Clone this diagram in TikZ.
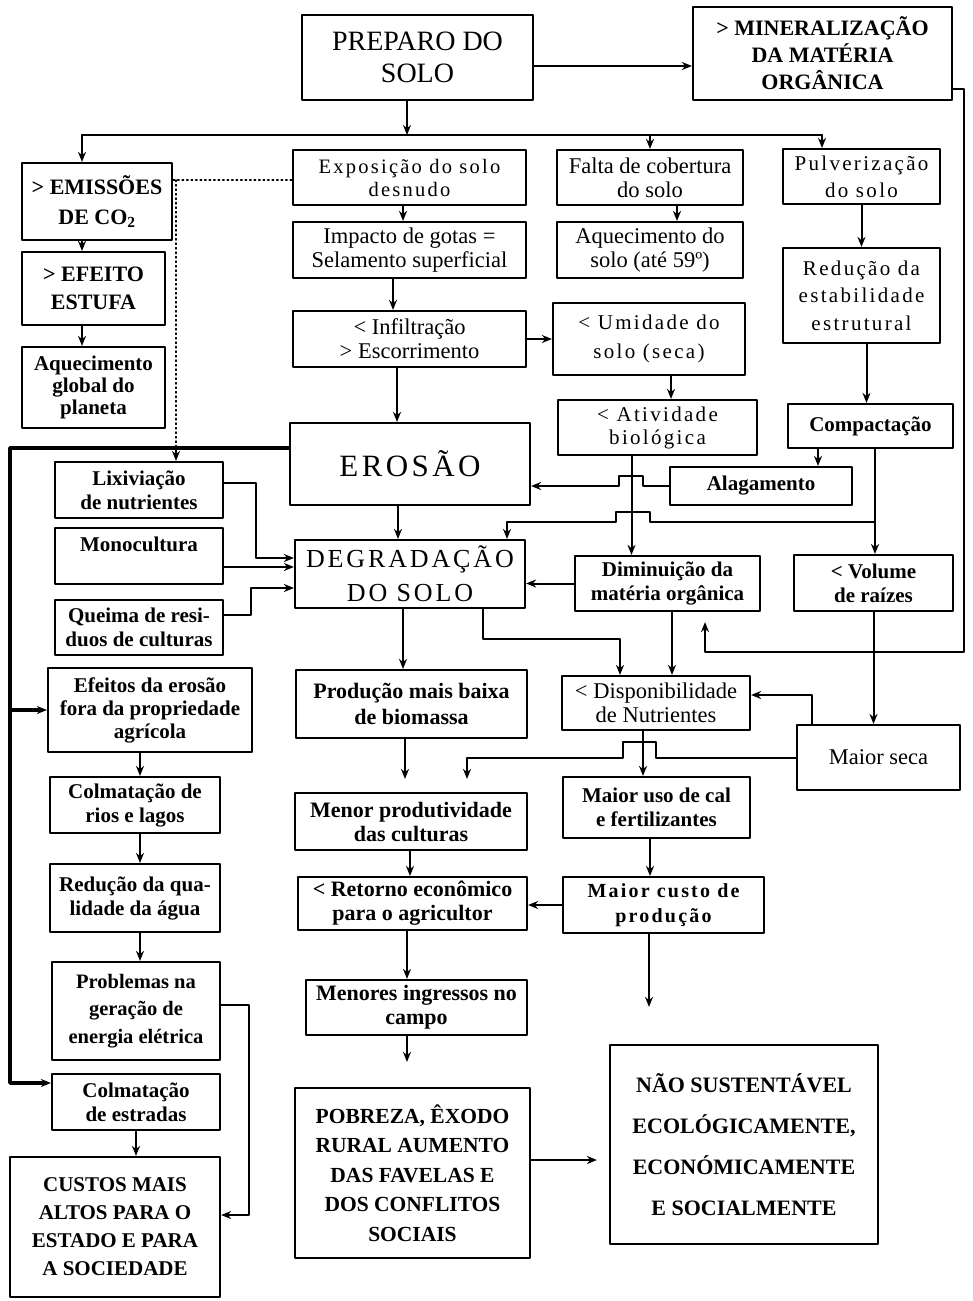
\documentclass[tikz,border=0pt]{standalone}
\usepackage{fontspec}
\setmainfont{Liberation Serif}
\newfontfamily\spaced[LetterSpace=11]{Liberation Serif}
\usetikzlibrary{arrows.meta}
\newcommand\fsz[2]{\fontsize{#1}{#2}\selectfont}

\begin{document}
\begin{tikzpicture}[x=1pt, y=-1pt, line cap=round, line join=round,
	box/.style={draw, line width=2.2pt, align=center, inner sep=1pt, font=\fsz{22.5}{24}},
	bbox/.style={box, font=\bfseries\fsz{21}{24}},
	sbox/.style={box, font=\spaced\fsz{21}{27}},
	wh/.style 2 args={minimum width=#1pt, minimum height=#2pt},
	arr/.style={line width=2pt, -{Stealth[length=10pt,width=8pt]}},
	ln/.style={line width=2pt}]
	% Page frame (same size as the scanned figure)
	\useasboundingbox (0,0) rectangle (972,1301);
	
	% Top row
	\node[box, wh={231}{85}, font=\fsz{28}{32}] (preparo) at (417.5,57.5) {PREPARO DO\\SOLO};
	\node[bbox, wh={259}{93}, font=\bfseries\fsz{22}{27}] (mineral) at (822.5,53.5) {> MINERALIZAÇÃO\\DA MATÉRIA\\ORGÂNICA};
	
	% Left column: greenhouse effect chain
	\node[bbox, wh={150}{77}, font=\bfseries\fsz{22}{30}] (emissoes) at (97,201.5) {> EMISSÕES\\DE CO\textsubscript{2}};
	\node[bbox, wh={143}{73}, font=\bfseries\fsz{22}{28}] (efeito) at (93.5,288.5) {> EFEITO\\ESTUFA};
	\node[bbox, wh={143}{81}, font=\bfseries\fsz{21}{22}] (aquecglobal) at (93.5,387.5) {Aquecimento\\global do\\planeta};
	
	% Left column: causes and off-farm effects
	\node[bbox, wh={168}{56}] (lixiv) at (139,490) {Lixiviação\\de nutrientes};
	\node[bbox, wh={168}{56}] (mono) at (139,556) {Monocultura\\\mbox{}};
	\node[bbox, wh={168}{55}] (queima) at (139,627.5) {Queima de resi-\\duos de culturas};
	\node[bbox, wh={204}{84}, font=\bfseries\fsz{21}{23}] (efeitos) at (150,710) {Efeitos da erosão\\fora da propriedade\\agrícola};
	\node[bbox, wh={170}{56}] (colmrios) at (135,805) {Colmatação de\\rios e lagos};
	\node[bbox, wh={170}{68}] (redagua) at (135,898) {Redução da qua-\\lidade da água};
	\node[bbox, wh={168}{98}, font=\bfseries\fsz{20.5}{27.5}] (problemas) at (136,1011) {Problemas na\\geração de\\energia elétrica};
	\node[bbox, wh={168}{56}] (colmestr) at (136,1102) {Colmatação\\de estradas};
	\node[bbox, wh={210}{140}, font=\bfseries\fsz{21}{28}] (custos) at (115,1227) {CUSTOS MAIS\\ALTOS PARA O\\ESTADO E PARA\\A SOCIEDADE};
	
	% Middle column
	\node[sbox, wh={233}{55}, font=\spaced\fsz{20.5}{23}] (expos) at (409.5,177.5) {Exposição do solo\\desnudo};
	\node[box, wh={233}{56}] (impacto) at (409.5,250) {Impacto de gotas =\\Selamento superficial};
	\node[box, wh={233}{56}] (infiltr) at (409.5,339) {< Infiltração\\> Escorrimento};
	\node[box, wh={240}{82}, font=\spaced\fsz{31}{34}] (erosao) at (410,464) {EROSÃO};
	\node[box, wh={230}{68}, font=\spaced\fsz{26}{34}] (degrad) at (410,574) {DEGRADAÇÃO\\DO SOLO};
	\node[bbox, wh={231}{68}, font=\bfseries\fsz{22}{26}] (producao) at (411.5,704) {Produção mais baixa\\de biomassa};
	\node[bbox, wh={232}{57}, font=\bfseries\fsz{22}{24}] (menorprod) at (411,821.5) {Menor produtividade\\das culturas};
	\node[bbox, wh={229}{53}, font=\bfseries\fsz{22}{24}] (retorno) at (412.5,903.5) {< Retorno econômico\\para o agricultor};
	\node[bbox, wh={221}{55}, font=\bfseries\fsz{22}{24}] (menores) at (416.5,1007.5) {Menores ingressos no\\campo};
	\node[bbox, wh={235}{170}, font=\bfseries\fsz{21.5}{29.5}] (pobreza) at (412.5,1173) {POBREZA, ÊXODO\\RURAL AUMENTO\\DAS FAVELAS E\\DOS CONFLITOS\\SOCIAIS};
	
	% Third column
	\node[box, wh={186}{55}] (falta) at (650,177.5) {Falta de cobertura\\do solo};
	\node[box, wh={186}{56}] (aquecsolo) at (650,250) {Aquecimento do\\solo (até 59º)};
	\node[sbox, wh={192}{72}, font=\spaced\fsz{21}{29}] (umidade) at (649,339) {< Umidade do\\solo (seca)};
	\node[sbox, wh={199}{55}, font=\spaced\fsz{21}{23}] (atividade) at (657.5,427.5) {< Atividade\\biológica};
	\node[bbox, wh={182}{38}] (alagam) at (761,486) {Alagamento};
	\node[bbox, wh={185}{55}] (diminu) at (667.5,583.5) {Diminuição da\\matéria orgânica};
	\node[box, wh={188}{54}] (dispon) at (656,703) {< Disponibilidade\\de Nutrientes};
	\node[bbox, wh={187}{61}] (maioruso) at (656.5,807.5) {Maior uso de cal\\e fertilizantes};
	\node[sbox, wh={201}{56}, font=\spaced\bfseries\fsz{20}{25}] (maiorcusto) at (663.5,905) {Maior custo de\\produção};
	\node[bbox, wh={268}{199}, font=\bfseries\fsz{22}{41}] (naosust) at (744,1144.5) {NÃO SUSTENTÁVEL\\ECOLÓGICAMENTE,\\ECONÓMICAMENTE\\E SOCIALMENTE};
	
	% Right column
	\node[sbox, wh={157}{55}] (pulver) at (861.5,176.5) {Pulverização\\do solo};
	\node[sbox, wh={157}{95}, font=\spaced\fsz{21}{27.5}] (reducao) at (861.5,295.5) {Redução da\\estabilidade\\estrutural};
	\node[bbox, wh={165}{44}] (compact) at (870.5,426) {Compactação};
	\node[bbox, wh={159}{56}] (volume) at (873.5,583) {< Volume\\de raízes};
	\node[box, wh={163}{65}] (maiorseca) at (878.5,757.5) {Maior seca};
	
	% Helper points for bus lines and bends
	\coordinate (busL) at (82,135);
	\coordinate (busR) at (822,135);
	\coordinate (dotc) at (176,180);
	\coordinate (eroL) at ([yshift=16pt]erosao.west);
	\coordinate (lft) at (10,710);
	\coordinate (jn) at (875,522);
	\coordinate (mr) at (964,652);
	
	% Soil preparation branches
	\draw[arr] ([yshift=-8.5pt]preparo.east) -- ([yshift=-8.5pt]preparo.east -| mineral.west);
	\draw[arr] ([xshift=-10.5pt]preparo.south) -- ([xshift=-10.5pt]preparo.south |- busL);
	\draw[ln] (busL) -- (busR);
	\draw[arr] (busL) -- (busL |- emissoes.north);
	\draw[arr] (falta.north |- busL) -- (falta.north);
	\draw[arr] (busR) -- (busR |- pulver.north);
	
	% Greenhouse chain and dotted link
	\draw[arr] (emissoes.south -| busL) -- (efeito.north -| busL);
	\draw[arr] (efeito.south -| busL) -- (aquecglobal.north -| busL);
	\draw[line width=1.4pt, dash pattern=on 1.5pt off 3pt] (emissoes.east |- dotc) -- (expos.west |- dotc);
	\draw[line width=1.4pt, dash pattern=on 1.5pt off 3pt] (dotc) -- (dotc |- eroL);
	\draw[arr] (dotc |- eroL) -- (dotc |- lixiv.north);
	
	% Middle chain
	\draw[arr] ([xshift=-6.5pt]expos.south) -- ([xshift=-6.5pt]impacto.north);
	\draw[arr] ([xshift=-16.5pt]impacto.south) -- ([xshift=-16.5pt]infiltr.north);
	\draw[arr] ([xshift=-12.5pt]infiltr.south) -- ([xshift=-12.5pt]infiltr.south |- erosao.north);
	\draw[arr] ([xshift=-12pt]erosao.south) -- ([xshift=-12pt]degrad.north);
	\draw[arr] (infiltr.east) -- (umidade.west);
	\draw[arr] ([xshift=27pt]falta.south) -- ([xshift=27pt]aquecsolo.north);
	\draw[arr] ([xshift=22pt]umidade.south) -- ([xshift=22pt]umidade.south |- atividade.north);
	
	% Right chain
	\draw[arr] (pulver.south) -- (reducao.north);
	\draw[arr] ([xshift=5pt]reducao.south) -- ([xshift=5pt]reducao.south |- compact.north);
	\draw[arr] ([xshift=-52.5pt]compact.south) -- ([xshift=-52.5pt]compact.south |- alagam.north);
	\draw[arr] ([xshift=4.5pt]compact.south) -- ([xshift=4.5pt]compact.south |- volume.north);
	
	% Lines with a hop over the vertical line
	\draw[arr] (jn) -- ++(-225,0) -- ++(0,-10) -- ++(-34,0) -- ++(0,10) -| ([xshift=97pt]degrad.north);
	\draw[arr] (alagam.west) -- ++(-26,0) -- ++(0,-10) -- ++(-24,0) -- ++(0,10) -- (erosao.east |- alagam.west);
	\draw[arr] ([xshift=-26pt]atividade.south) -- ([xshift=-26pt]atividade.south |- diminu.north);
	\draw[arr] (diminu.west) -- (degrad.east |- diminu.west);
	
	% Mineralization feedback
	\draw[arr, shorten >=10pt] ([yshift=-35.5pt]mineral.east) -| (mr) -| ([xshift=37.5pt]diminu.south);
	
	% Drought and nutrients
	\draw[arr] (volume.south) -- (volume.south |- maiorseca.north);
	\draw[arr] ([xshift=-66.5pt]maiorseca.north) |- ([yshift=8pt]dispon.east);
	\draw[arr, shorten >=13pt] (maiorseca.west) -- ++(-140,0) -- ++(0,-16) -- ++(-33,0) -- ++(0,16) -| ([xshift=56pt]menorprod.north);
	\draw[arr] ([xshift=-13pt]dispon.south) -- ([xshift=-13pt]dispon.south |- maioruso.north);
	\draw[arr] ([xshift=-6.5pt]maioruso.south) -- ([xshift=-6.5pt]maioruso.south |- maiorcusto.north);
	\draw[arr] (maiorcusto.west) -- (retorno.east |- maiorcusto.west);
	\draw[arr, shorten >=37pt] ([xshift=-14.5pt]maiorcusto.south) -- ([xshift=-14.5pt]maiorcusto.south |- naosust.north);
	
	% Degradation consequences
	\draw[arr] ([xshift=-7pt]degrad.south) -- ([xshift=-7pt]degrad.south |- producao.north);
	\draw[arr] ([xshift=73pt]degrad.south) -- ++(0,30) -| ([xshift=-36pt]dispon.north);
	\draw[arr] ([xshift=4.5pt]diminu.south) -- ([xshift=4.5pt]diminu.south |- dispon.north);
	\draw[arr, shorten >=13pt] ([xshift=-6.5pt]producao.south) -- ([xshift=-6.5pt]producao.south |- menorprod.north);
	\draw[arr] ([xshift=-1pt]menorprod.south) -- ([xshift=-1pt]menorprod.south |- retorno.north);
	\draw[arr] ([xshift=-5.5pt]retorno.south) -- ([xshift=-5.5pt]retorno.south |- menores.north);
	\draw[arr, shorten >=25pt] ([xshift=-9.5pt]menores.south) -- ([xshift=-9.5pt]menores.south |- pobreza.north);
	\draw[arr, shorten >=12pt] ([yshift=13pt]pobreza.east) -- ([yshift=13pt]pobreza.east -| naosust.west);
	
	% Causes into degradation
	\draw[arr] ([yshift=7pt]lixiv.east) -- ++(32,0) |- ([yshift=16pt]degrad.west);
	\draw[arr] ([yshift=-11pt]mono.east) -- ([yshift=-11pt]mono.east -| degrad.west);
	\draw[arr] ([yshift=12.5pt]queima.east) -- ++(27,0) |- ([yshift=-14pt]degrad.west);
	
	% Erosion off the farm
	\draw[arr, line width=3.5pt] (eroL) -| (lft) -- (efeitos.west);
	\draw[arr, line width=3.5pt] (lft) |- ([yshift=19pt]colmestr.west);
	\draw[arr] ([xshift=-10pt]efeitos.south) -- ([xshift=-10pt]efeitos.south |- colmrios.north);
	\draw[arr] ([xshift=5pt]colmrios.south) -- ([xshift=5pt]redagua.north);
	\draw[arr] ([xshift=5pt]redagua.south) -- ([xshift=5pt]redagua.south |- problemas.north);
	\draw[arr] (colmestr.south) -- (colmestr.south |- custos.north);
	\draw[arr] ([yshift=6pt]problemas.east) -- ++(28,0) |- ([yshift=12pt]custos.east);
\end{tikzpicture}
\end{document}
